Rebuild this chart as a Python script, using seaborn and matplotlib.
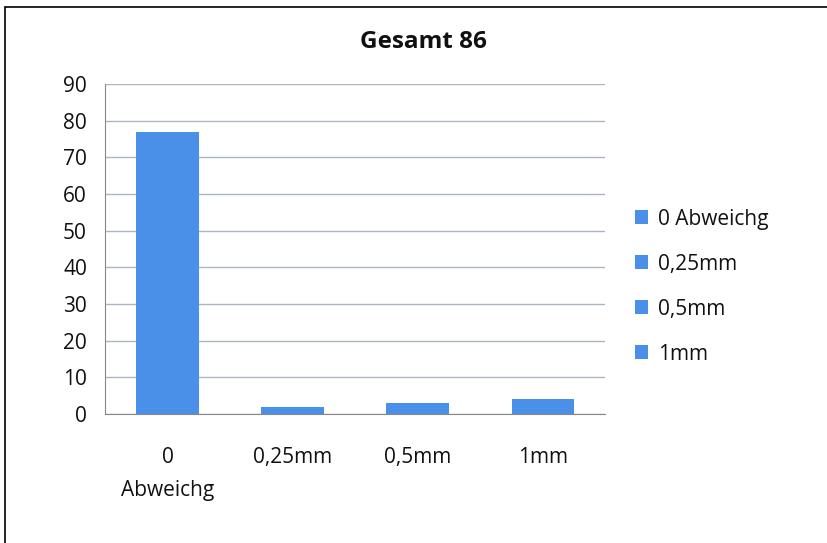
import matplotlib
matplotlib.use("Agg")
import matplotlib.pyplot as plt
import seaborn as sns
import pandas as pd
from matplotlib.patches import Rectangle, Patch

# Werte aus dem Diagramm
kategorien = ["0 Abweichg", "0,25mm", "0,5mm", "1mm"]
tick_labels = ["0\nAbweichg", "0,25mm", "0,5mm", "1mm"]
anzahl = [77, 2, 3, 4]
titel = "Gesamt 86"

df = pd.DataFrame({"Kategorie": kategorien, "Anzahl": anzahl})

sns.set_style("white")
plt.rcParams['font.family'] = ['Open Sans', 'DejaVu Sans']

fig = plt.figure(figsize=(8.27, 5.43), dpi=100)
ax = fig.add_axes([0.127, 0.2376, 0.605, 0.6077])

farbe = "#4A8FE8"
sns.barplot(data=df, x="Kategorie", y="Anzahl", hue="Kategorie",
            palette=[farbe] * 4, width=0.5, ax=ax, legend=False,
            saturation=1, linewidth=0)

ax.set_ylim(0, 90)
ax.set_xlim(-0.5, 3.5)
ax.set_yticks(range(0, 91, 10))
ax.yaxis.grid(True, color="#a9b6c2", linewidth=1)
ax.set_axisbelow(True)
ax.set_xlabel("")
ax.set_ylabel("")
ax.set_xticks(range(4))
ax.set_xticklabels(tick_labels, fontsize=15, linespacing=1.75)
ax.set_xticks([-0.5, 0.5, 1.5, 2.5, 3.5], minor=True)
ax.tick_params(axis="x", which="major", length=0, pad=24)
ax.tick_params(axis="x", which="minor", length=7, color="#888888", width=1)
ax.tick_params(axis="y", length=5, color="#888888", labelsize=15, pad=8)
for lbl in ax.get_xticklabels() + ax.get_yticklabels():
    lbl.set_color("#111111")

for s in ["top", "right"]:
    ax.spines[s].set_visible(False)
ax.spines["left"].set_color("#888888")
ax.spines["bottom"].set_color("#888888")

fig.suptitle(titel, x=423 / 827, y=1 - 42 / 543, va="center",
             fontsize=17.5, fontweight="bold", color="#111111")

handles = [Patch(facecolor=farbe, edgecolor="none") for _ in kategorien]
fig.legend(handles, kategorien, loc="center left", bbox_to_anchor=(0.745, 0.472),
           frameon=False, fontsize=15, handlelength=0.65, handleheight=0.65,
           handletextpad=0.45, labelspacing=1.15, labelcolor="#111111")

# Rahmen um das Diagramm
fig.patches.append(Rectangle((5 / 827, -0.1), 1.1, 1 - 7 / 543 + 0.1,
                             transform=fig.transFigure, fill=False,
                             edgecolor="black", linewidth=1.2))

fig.savefig("out.png", dpi=100)
